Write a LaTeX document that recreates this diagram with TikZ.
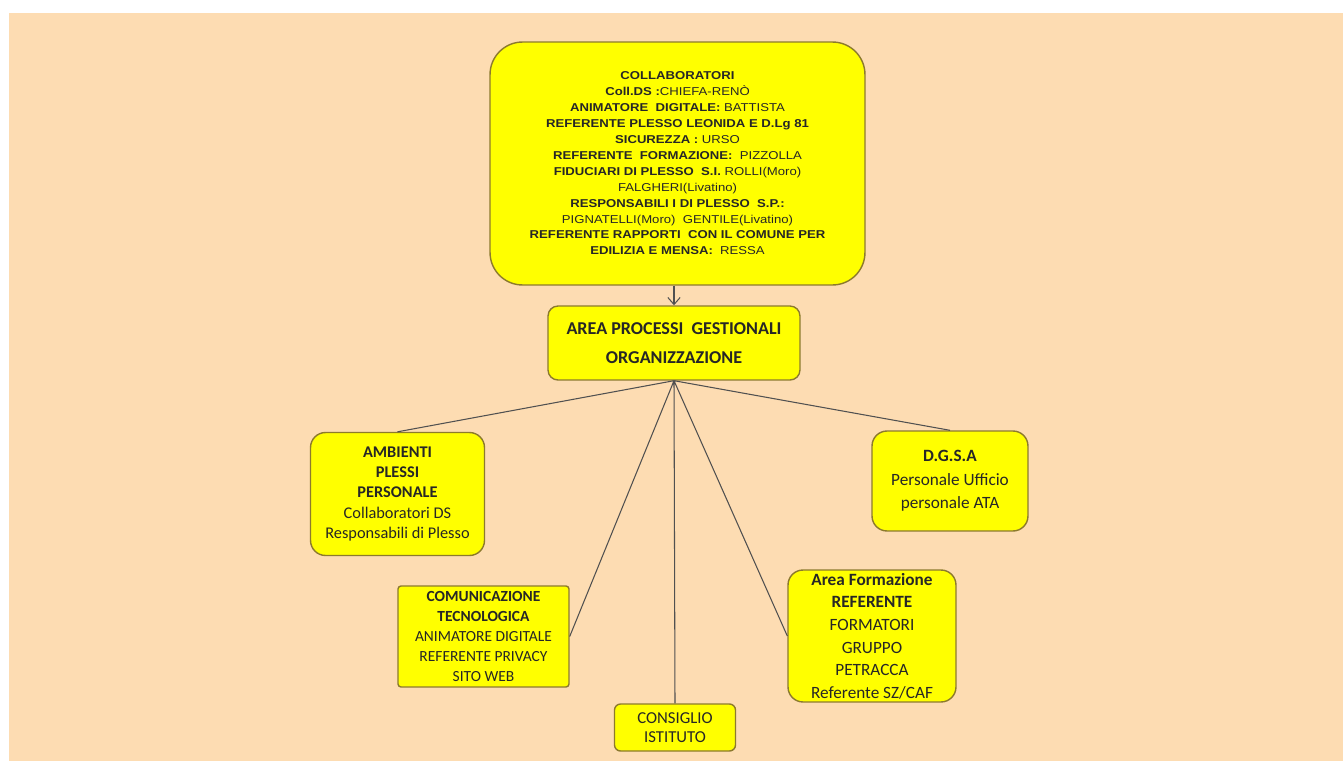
\documentclass[tikz,border=0pt]{standalone}
\usepackage{fontspec}
\setmainfont{Carlito}
\newfontfamily\arialfont[FakeStretch=1.15]{Liberation Sans}
\usetikzlibrary{arrows.meta}
\definecolor{BackClr}{RGB}{253,220,178}
\definecolor{BoxClr}{RGB}{255,255,0}
\definecolor{EdgeClr}{RGB}{140,122,45}
\definecolor{LineClr}{RGB}{80,80,80}
\definecolor{TextClr}{RGB}{38,38,38}

\begin{document}
\begin{tikzpicture}[x=0.02cm,y=-0.02cm,
  box/.style={draw=EdgeClr,line width=0.8pt,fill=BoxClr,text=TextClr,align=center,inner sep=0pt},
  link/.style={draw=LineClr,line width=0.6pt}]
\useasboundingbox (0,0) rectangle (1343,761);
\fill[BackClr] (9,13) rectangle (1343,761);

\node[box,minimum width=7.5cm,minimum height=4.86cm,rounded corners=0.65cm,
  font=\arialfont\fontsize{6.5}{9.05}\selectfont] (collab) at (677.5,163.5)
  {\textbf{COLLABORATORI}\\
   \textbf{Coll.DS :}CHIEFA-RENÒ\\
   \textbf{ANIMATORE\ \ DIGITALE:}\ BATTISTA\\
   \textbf{REFERENTE PLESSO LEONIDA E D.Lg 81}\\
   \textbf{SICUREZZA :} URSO\\
   \textbf{REFERENTE\ \ FORMAZIONE:}\ \ PIZZOLLA\\
   \textbf{FIDUCIARI DI PLESSO\ \ S.I.} ROLLI(Moro)\\
   FALGHERI(Livatino)\\
   \textbf{RESPONSABILI I DI PLESSO\ \ S.P.:}\\
   PIGNATELLI(Moro)\ \ GENTILE(Livatino)\\
   \textbf{REFERENTE RAPPORTI\ \ CON IL COMUNE PER}\\
   \textbf{EDILIZIA E MENSA:}\ \ RESSA};

\node[box,minimum width=5.04cm,minimum height=1.48cm,rounded corners=0.2cm,
  font=\bfseries\fontsize{10.3}{16.5}\selectfont] (area) at (674,343)
  {AREA PROCESSI\ \ GESTIONALI\\ ORGANIZZAZIONE};

\node[box,minimum width=3.48cm,minimum height=2.46cm,rounded corners=0.3cm,
  font=\fontsize{9.3}{11.6}\selectfont] (amb) at (397.5,494)
  {\textbf{AMBIENTI}\\ \textbf{PLESSI}\\ \textbf{PERSONALE}\\ Collaboratori DS\\ Responsabili di Plesso};

\node[box,minimum width=3.42cm,minimum height=2.02cm,rounded corners=0.06cm,
  font=\fontsize{8.8}{11.5}\selectfont] (comm) at (483.5,636.5)
  {\textbf{COMUNICAZIONE}\\ \textbf{TECNOLOGICA}\\ ANIMATORE DIGITALE\\ REFERENTE PRIVACY\\ SITO WEB};

\node[box,minimum width=2.42cm,minimum height=0.94cm,rounded corners=0.12cm,
  font=\fontsize{9.5}{10.8}\selectfont] (cons) at (675,727.5)
  {CONSIGLIO\\ ISTITUTO};

\node[box,minimum width=3.36cm,minimum height=2.64cm,rounded corners=0.3cm,
  font=\fontsize{9.8}{12.9}\selectfont] (form) at (872,636)
  {\textbf{Area Formazione}\\ \textbf{REFERENTE}\\ FORMATORI\\ GRUPPO\\ PETRACCA\\ Referente SZ/CAF};

\node[box,minimum width=3.12cm,minimum height=2cm,rounded corners=0.3cm,
  font=\fontsize{9.8}{13.4}\selectfont] (dgsa) at (950,481)
  {\textbf{D.G.S.A}\\ Personale Ufficio\\ personale ATA};

\draw[link,-{Straight Barb[length=4pt,width=7pt]}] (area.north |- collab.south) -- (area.north);
\draw[link] (area.south) -- (amb.north)
            (area.south) -- (comm.east)
            (area.south) -- (cons.north)
            (area.south) -- (form.west)
            (area.south) -- (dgsa.north);

\end{tikzpicture}
\end{document}
